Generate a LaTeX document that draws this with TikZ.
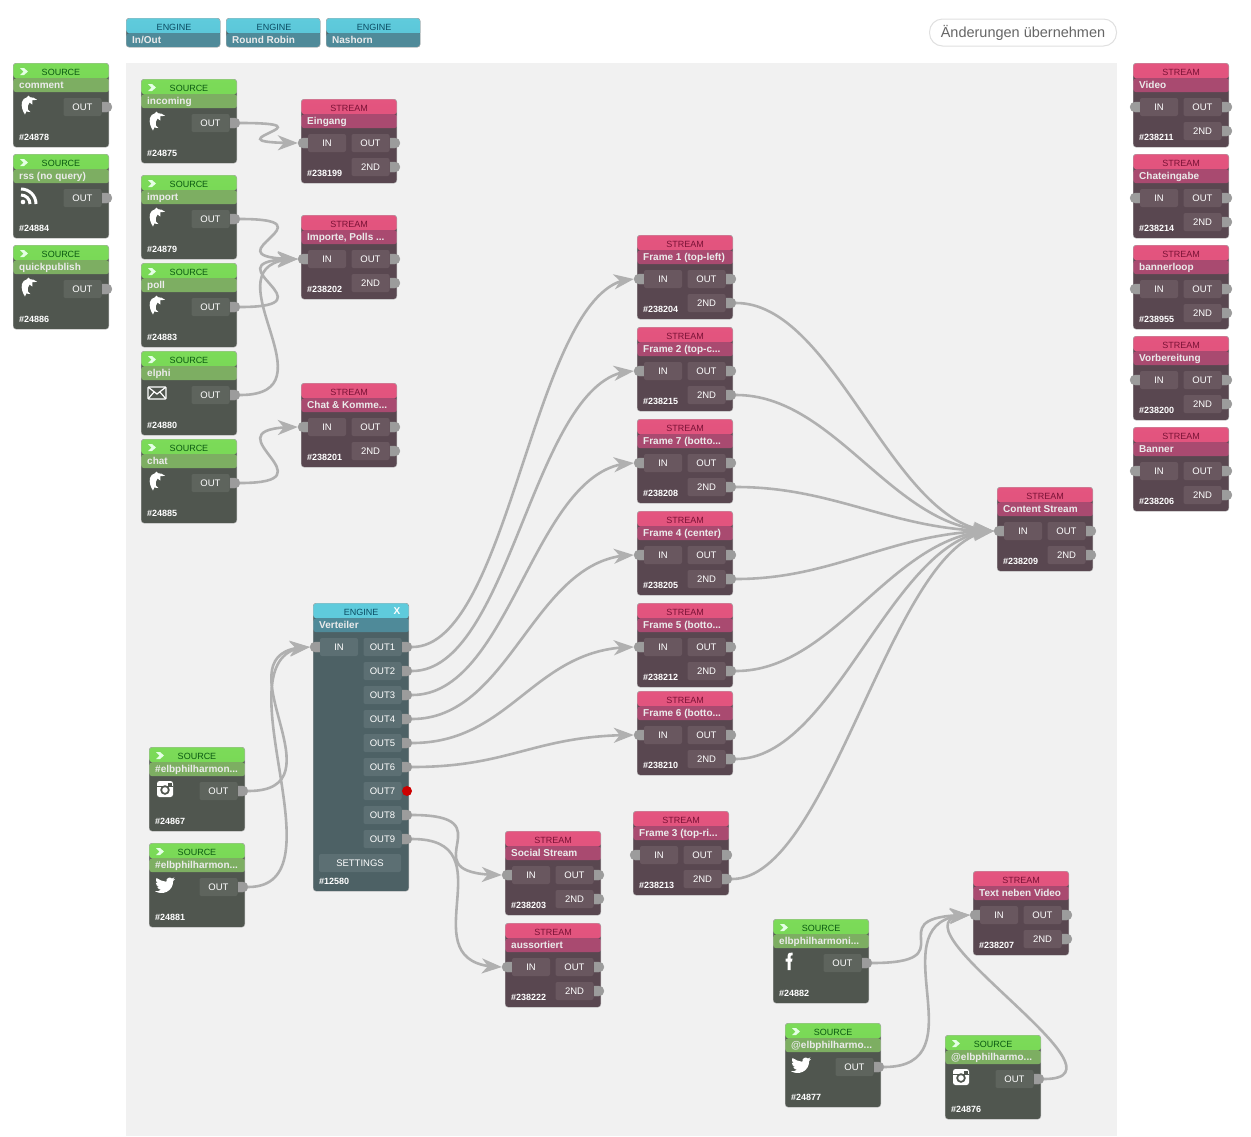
\documentclass[tikz,border=0pt]{standalone}
\usepackage{fontspec}
\setmainfont{Liberation Sans}
\usetikzlibrary{arrows.meta,bending,shapes.misc}
\pgfdeclarelayer{panel}\pgfdeclarelayer{wires}
\pgfsetlayers{panel,wires,main}
\definecolor{srchead}{HTML}{7CDB58}\definecolor{srcheadb}{HTML}{6CCF52}
\definecolor{srctitle}{HTML}{7DAE62}\definecolor{srcbody}{HTML}{50564F}
\definecolor{srcbtn}{HTML}{5E645D}\definecolor{srctext}{HTML}{0B5A12}
\definecolor{strhead}{HTML}{E4557F}\definecolor{strheadb}{HTML}{D74C78}
\definecolor{strtitle}{HTML}{A94A70}\definecolor{strbody}{HTML}{594750}
\definecolor{strbtn}{HTML}{69575F}\definecolor{strtext}{HTML}{7A1236}
\definecolor{enghead}{HTML}{5FCBDC}\definecolor{engheadb}{HTML}{58C3D6}
\definecolor{engtitle}{HTML}{4F8A99}\definecolor{engbody}{HTML}{4D6165}
\definecolor{engbtn}{HTML}{5C6F73}\definecolor{engtext}{HTML}{0B4C63}
\definecolor{wirecol}{HTML}{B0B0B0}\definecolor{portcol}{HTML}{9C9C9C}
\tikzset{
  blockbody/.style={anchor=north west,rectangle,rounded corners=3,inner sep=0,minimum width=95.6,draw=black!30,line width=.4},
  headtext/.style={anchor=base,inner sep=0,font=\fontsize{9}{10}\selectfont},
  titletext/.style={anchor=base west,inner sep=0,text=white!92!black,font=\fontsize{10}{11}\selectfont\bfseries},
  idtext/.style={anchor=base west,inner sep=0,text=white,font=\fontsize{9}{10}\selectfont\bfseries},
  btn/.style={rectangle,rounded corners=2,inner sep=0,minimum width=38,minimum height=18,text=white,font=\fontsize{9.5}{11}\selectfont},
  portr/.style={rounded rectangle,rounded rectangle left arc=none,minimum width=10,minimum height=10,inner sep=0,fill=portcol,draw=black!40,line width=.3},
  portl/.style={rounded rectangle,rounded rectangle right arc=none,minimum width=10,minimum height=10,inner sep=0,fill=portcol,draw=black!40,line width=.3},
  portred/.style={circle,minimum size=10,inner sep=0,fill=red!80!black},
  wire/.style={draw=wirecol,line width=2.6,-{Stealth[length=20,width=15,inset=6,flex=0.8]}},
}
% name x y h kind label title [width]
\newcommand{\blk}[8][95.6]{%
  \node[blockbody,fill=#6body,minimum width=#1,minimum height=#5,path picture={
    \fill[top color=#6head,bottom color=#6headb] (path picture bounding box.north west) rectangle ([shift={(96,15)}]path picture bounding box.north west);
    \fill[#6title] ([shift={(0,15)}]path picture bounding box.north west) rectangle ([shift={(96,29)}]path picture bounding box.north west);
  }] (#2) at (#3,#4) {};
  \node[headtext,text=#6text] (#2-h) at ([shift={(48,12)}]#2.north west) {#7};
  \node[titletext] (#2-t) at ([shift={(6,25.5)}]#2.north west) {#8};
}
% name x y title id icon
\newcommand{\src}[6]{%
  \blk{#1}{#2}{#3}{84}{src}{SOURCE}{#4}
  \fill[white!90!green] ([shift={(7,5)}]#1.north west) -- ++(4,0) -- ++(4,3.5) -- ++(-4,3.5) -- ++(-4,0) -- ++(3.5,-3.5) -- cycle;
  \node[portr] (#1-o) at ([shift={(94,44)}]#1.north west) {};
  \node[btn,fill=srcbtn] (#1-ob) at ([shift={(69.5,44)}]#1.north west) {OUT};
  \node[idtext] (#1-id) at ([shift={(6,77)}]#1.north west) {\##5};
  \begin{scope}[shift={(#2+16,#3+42)}]#6\end{scope}
}
% name x y title id
\newcommand{\str}[5]{%
  \blk{#1}{#2}{#3}{84}{str}{STREAM}{#4}
  \node[portl] (#1-i) at ([shift={(2,44)}]#1.north west) {};
  \node[portr] (#1-o) at ([shift={(94,44)}]#1.north west) {};
  \node[portr] (#1-s) at ([shift={(94,68)}]#1.north west) {};
  \node[btn,fill=strbtn] (#1-ib) at ([shift={(26,44)}]#1.north west) {IN};
  \node[btn,fill=strbtn] (#1-ob) at ([shift={(69.5,44)}]#1.north west) {OUT};
  \node[btn,fill=strbtn] (#1-sb) at ([shift={(69.5,68)}]#1.north west) {2ND};
  \node[idtext] (#1-id) at ([shift={(6,77)}]#1.north west) {\##5};
}
\newcommand{\outp}[2]{% number, offset y
  \ifnum#1=7
    \node[portred] (v-o#1) at ([shift={(94,#2)}]v.north west) {};
  \else
    \node[portr] (v-o#1) at ([shift={(94,#2)}]v.north west) {};
  \fi
  \node[btn,fill=engbtn] (v-b#1) at ([shift={(69.5,#2)}]v.north west) {OUT#1};
}
\newcommand{\conn}[3][100]{\draw[wire] (#2.east) .. controls +(#1,0) and +(-#1,0) .. (#3.west);}
\newcommand{\icdolphin}{\fill[white] (-4,9.5) .. controls (-6.5,6) and (-8,1) .. (-7,-3) .. controls (-6.5,-5.5) and (-4.5,-7) .. (-2.5,-7.5) -- (-0.5,-9.5) -- (1,-7.8) .. controls (3.5,-8) and (6,-7) .. (8,-5.2) .. controls (6.5,-5) and (5,-4.8) .. (3.5,-4.8) .. controls (3,-3.5) and (3,-2) .. (3.3,-0.5) .. controls (2,-1) and (1,-1.8) .. (0.5,-2.5) .. controls (-1,-1) and (-1.6,2) .. (-1,4.5) .. controls (-0.5,5.5) and (0.5,6.5) .. (1.5,7) .. controls (0,7.2) and (-1.5,6.8) .. (-2.5,6.3) -- cycle;}
\newcommand{\icrss}{\fill[white] (-6,6) circle (2.3);
  \draw[white,line width=3] (-8,-1) .. controls (-3,-1) and (1,3) .. (1,8);
  \draw[white,line width=3] (-8,-7) .. controls (0.3,-7) and (7,-0.3) .. (7,8);}
\newcommand{\icmail}{\draw[white,line width=1.3,rounded corners=1] (-9,-6) rectangle (9,6);
  \draw[white,line width=1.2] (-9,-6) -- (0,1) -- (9,-6) (-9,6) -- (-3,-1) (9,6) -- (3,-1);}
\newcommand{\icinsta}{\fill[white,rounded corners=2.5] (-8,-8) rectangle (8,8);
  \fill[srcbody] (-8,-3) rectangle (8,-2);
  \fill[srcbody] (0,1) circle (4.8);\fill[white] (0,1) circle (2.8);
  \fill[srcbody] (3.2,-6.5) rectangle (6.5,-3.5);}
\newcommand{\ictwitter}{\fill[white] (-10,6.2) .. controls (-3,10.5) and (8,7) .. (8.2,-4) .. controls (9,-4.5) and (9.6,-5.3) .. (10,-6) .. controls (9.3,-5.7) and (8.6,-5.4) .. (7.8,-5.3) .. controls (8.7,-5.9) and (9.2,-6.6) .. (9.5,-7.5) .. controls (8.7,-7) and (7.8,-6.7) .. (6.9,-6.5) .. controls (5,-8.5) and (0.8,-7.3) .. (1.4,-3.2) .. controls (-2,-3.5) and (-5.5,-5) .. (-8.6,-7) .. controls (-9.7,-5) and (-9,-3) .. (-7.3,-1.8) .. controls (-8,-1.8) and (-8.6,-2) .. (-9.2,-2.3) .. controls (-9.2,-0.3) and (-7.8,1.4) .. (-6,1.8) .. controls (-6.6,2) and (-7.2,2) .. (-7.8,1.9) .. controls (-7.3,3.5) and (-5.8,4.6) .. (-4,4.7) .. controls (-5.6,5.9) and (-7.8,6.5) .. (-10,6.2) -- cycle;}
\newcommand{\icfb}{\fill[white] (-1.5,9) -- (-1.5,0.5) -- (-3.5,0.5) -- (-3.5,-2.5) -- (-1.5,-2.5) -- (-1.5,-4.5) .. controls (-1.5,-8) and (1,-9) .. (3.5,-8.5) -- (3.5,-5.7) -- (2.5,-5.7) .. controls (1.5,-5.7) and (1.5,-5) .. (1.5,-4.5) -- (1.5,-2.5) -- (3.5,-2.5) -- (3,0.5) -- (1.5,0.5) -- (1.5,9) -- cycle;}
\begin{document}
\begin{tikzpicture}[x=1pt,y=-1pt]
\useasboundingbox (0,0) rectangle (1251,1136);
\begin{pgfonlayer}{panel}
  \fill[white] (0,0) rectangle (1251,1136);
  \fill[black!5.5] (126,63) rectangle (1117,1136);
\end{pgfonlayer}
% top palette
\blk[94]{e1}{126}{18}{29}{eng}{ENGINE}{In/Out}
\blk[94]{e2}{226}{18}{29}{eng}{ENGINE}{Round Robin}
\blk[94]{e3}{326}{18}{29}{eng}{ENGINE}{Nashorn}
\node[rectangle,rounded corners=13,draw=black!12,line width=1,fill=white,minimum width=187,minimum height=27,inner sep=0,text=black!60,font=\fontsize{14.5}{16}\selectfont] (apply) at (1023,32.5) {Änderungen übernehmen};
% left palette
\src{comment}{13}{63}{comment}{24878}{\icdolphin}
\src{rss}{13}{154}{rss (no query)}{24884}{\icrss}
\src{qp}{13}{245}{quickpublish}{24886}{\icdolphin}
% right palette
\str{video}{1133}{63}{Video}{238211}
\str{chat2}{1133}{154}{Chateingabe}{238214}
\str{bloop}{1133}{245}{bannerloop}{238955}
\str{vorb}{1133}{336}{Vorbereitung}{238200}
\str{banner}{1133}{427}{Banner}{238206}
% sources
\src{incoming}{141}{79}{incoming}{24875}{\icdolphin}
\src{import}{141}{175}{import}{24879}{\icdolphin}
\src{poll}{141}{263}{poll}{24883}{\icdolphin}
\src{elphi}{141}{351}{elphi}{24880}{\icmail}
\src{chat}{141}{439}{chat}{24885}{\icdolphin}
\src{hig}{149}{747}{\#elbphilharmon...}{24867}{\icinsta}
\src{htw}{149}{843}{\#elbphilharmon...}{24881}{\ictwitter}
\src{fb}{773}{919}{elbphilharmoni...}{24882}{\icfb}
\src{atw}{785}{1023}{@elbphilharmo...}{24877}{\ictwitter}
\src{aig}{945}{1035}{@elbphilharmo...}{24876}{\icinsta}
% streams
\str{eing}{301}{99}{Eingang}{238199}
\str{imp}{301}{215}{Importe, Polls ...}{238202}
\str{kom}{301}{383}{Chat \& Komme...}{238201}
\str{f1}{637}{235}{Frame 1 (top-left)}{238204}
\str{f2}{637}{327}{Frame 2 (top-c...}{238215}
\str{f7}{637}{419}{Frame 7 (botto...}{238208}
\str{f4}{637}{511}{Frame 4 (center)}{238205}
\str{f5}{637}{603}{Frame 5 (botto...}{238212}
\str{f6}{637}{691}{Frame 6 (botto...}{238210}
\str{f3}{633}{811}{Frame 3 (top-ri...}{238213}
\str{content}{997}{487}{Content Stream}{238209}
\str{social}{505}{831}{Social Stream}{238203}
\str{auss}{505}{923}{aussortiert}{238222}
\str{tnv}{973}{871}{Text neben Video}{238207}
% Verteiler engine
\blk{v}{313}{603}{288}{eng}{ENGINE}{Verteiler}
\node[anchor=center,inner sep=0,text=white,font=\fontsize{10}{11}\selectfont\bfseries] (v-x) at ([shift={(84,8)}]v.north west) {X};
\node[portl] (v-i) at ([shift={(2,44)}]v.north west) {};
\node[btn,fill=engbtn] (v-ib) at ([shift={(26,44)}]v.north west) {IN};
\outp{1}{44}\outp{2}{68}\outp{3}{92}\outp{4}{116}\outp{5}{140}\outp{6}{164}\outp{7}{188}\outp{8}{212}\outp{9}{236}
\node[btn,fill=engbtn,minimum width=82] (v-set) at ([shift={(47,260)}]v.north west) {SETTINGS};
\node[idtext] (v-id) at ([shift={(6,281)}]v.north west) {\#12580};
% connectors
\begin{pgfonlayer}{wires}
\conn{incoming-o}{eing-i}
\conn{import-o}{imp-i}
\conn{poll-o}{imp-i}
\conn{elphi-o}{imp-i}
\conn{chat-o}{kom-i}
\conn{hig-o}{v-i}
\conn{htw-o}{v-i}
\conn{v-o1}{f1-i}
\conn{v-o2}{f2-i}
\conn{v-o3}{f7-i}
\conn{v-o4}{f4-i}
\conn{v-o5}{f5-i}
\conn{v-o6}{f6-i}
\conn{v-o8}{social-i}
\conn{v-o9}{auss-i}
\conn{f1-s}{content-i}
\conn{f2-s}{content-i}
\conn{f7-s}{content-i}
\conn{f4-s}{content-i}
\conn{f5-s}{content-i}
\conn{f6-s}{content-i}
\conn{f3-s}{content-i}
\conn{fb-o}{tnv-i}
\conn{atw-o}{tnv-i}
\conn{aig-o}{tnv-i}
\end{pgfonlayer}
\end{tikzpicture}
\end{document}
